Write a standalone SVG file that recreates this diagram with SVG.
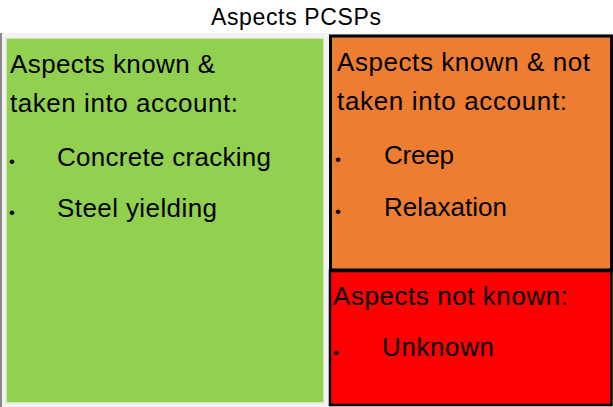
<svg xmlns="http://www.w3.org/2000/svg" width="613" height="407" viewBox="0 0 613 407">
<style>
text{font-family:"Liberation Sans",Arial,sans-serif;fill:#000}
.h{font-size:26px}
.b{font-size:17px}
.t{font-size:23px}
</style>
<rect x="0" y="0" width="613" height="407" fill="#ffffff"/>
<rect x="0" y="33" width="613" height="374" fill="#f2f2f2"/>
<line x1="1" y1="33" x2="1" y2="407" stroke="#666" stroke-width="1.5"/>
<text class="t" x="211" y="25" textLength="170">Aspects PCSPs</text>
<g id="known-taken">
<rect x="6" y="38" width="318" height="365" fill="#92d050" stroke="#e6eee0" stroke-width="1.5"/>
<text class="h" x="10" y="73" textLength="205">Aspects known &amp;</text>
<text class="h" x="10" y="112" textLength="228">taken into account:</text>
<text class="b" x="9" y="167">•</text>
<text class="h" x="57" y="166" textLength="214">Concrete cracking</text>
<text class="b" x="9" y="218">•</text>
<text class="h" x="57" y="217" textLength="160">Steel yielding</text>
</g>
<g id="known-not-taken">
<rect x="330.5" y="36" width="281" height="234" fill="#ed7d31" stroke="#000" stroke-width="3"/>
<text class="h" x="337" y="71" textLength="253">Aspects known &amp; not</text>
<text class="h" x="337" y="110" textLength="230">taken into account:</text>
<text class="b" x="335" y="165">•</text>
<text class="h" x="384" y="164" textLength="70">Creep</text>
<text class="b" x="335" y="217">•</text>
<text class="h" x="384" y="216" textLength="123">Relaxation</text>
</g>
<g id="not-known">
<rect x="330" y="271" width="281.5" height="134" fill="#ff0000" stroke="#000" stroke-width="2.5"/>
<text class="h" x="333" y="305" textLength="235">Aspects not known:</text>
<text class="b" x="333" y="358">•</text>
<text class="h" x="382" y="356" textLength="112">Unknown</text>
</g>
</svg>
